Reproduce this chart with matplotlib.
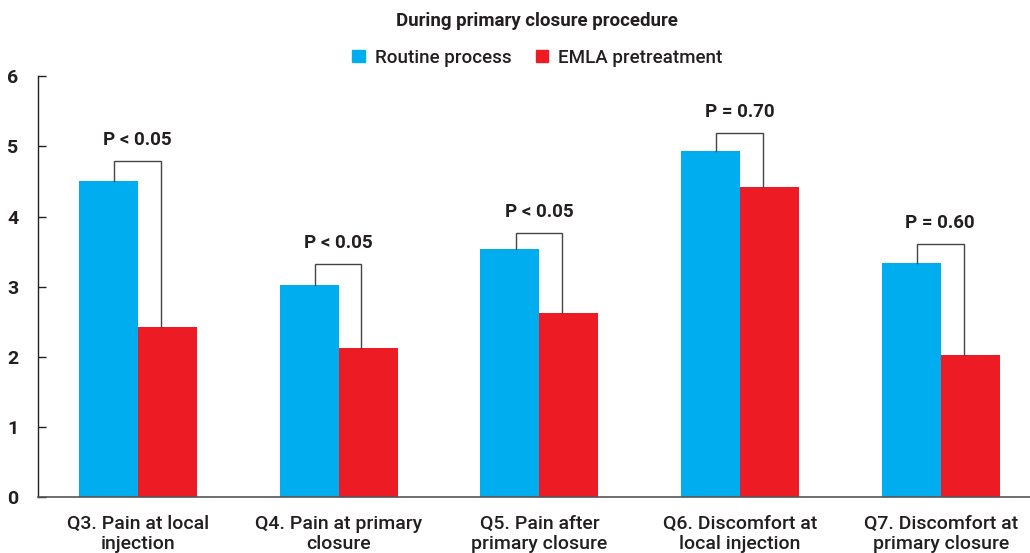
import numpy as np
import matplotlib
matplotlib.use("Agg")
import matplotlib.pyplot as plt
from matplotlib.patches import Patch

plt.rcParams['font.family'] = ['Roboto', 'DejaVu Sans']

# data
categories = ["Q3. Pain at local\ninjection", "Q4. Pain at primary\nclosure",
              "Q5. Pain after\nprimary closure", "Q6. Discomfort at\nlocal injection",
              "Q7. Discomfort at\nprimary closure"]
routine = [4.50, 3.02, 3.54, 4.93, 3.34]
emla = [2.42, 2.12, 2.62, 4.42, 2.02]
bracket_top = [4.79, 3.32, 3.77, 5.19, 3.61]
p_labels = ["P < 0.05", "P < 0.05", "P < 0.05", "P = 0.70", "P = 0.60"]
series_names = ["Routine process", "EMLA pretreatment"]

blue = "#00adef"
red = "#ed1c24"
ink = "#231f20"

fig = plt.figure(figsize=(10.30, 5.53), dpi=100)
ax = fig.add_axes([0.0369, 0.1013, 0.9631, 0.7607])

x = np.arange(len(categories))
w = 0.294
ax.bar(x - w / 2, routine, w, color=blue)
ax.bar(x + w / 2, emla, w, color=red)

# significance brackets
for i in range(len(categories)):
    xl = x[i] - 0.118
    xr = x[i] + 0.113
    ax.plot([xl, xl, xr, xr], [routine[i], bracket_top[i], bracket_top[i], emla[i]],
            color="#444444", lw=1.0, solid_joinstyle="miter")
    ax.text(x[i] - 0.003, bracket_top[i] + 0.17, p_labels[i], ha="center", va="bottom",
            fontsize=13.5, fontweight="bold", color=ink)

ax.set_xlim(-0.498, 4.444)
ax.set_ylim(0, 6)
ax.set_yticks(range(7))
ax.set_xticks(x)
ax.set_xticklabels(categories, fontsize=14, fontweight="medium", color=ink,
                   linespacing=1.15)
ax.tick_params(axis="x", length=0, pad=13)
ax.tick_params(axis="y", direction="in", length=6, width=1, color=ink, pad=14,
               labelsize=14, labelcolor=ink)
for lab in ax.get_yticklabels():
    lab.set_fontweight("bold")
for s in ["top", "right"]:
    ax.spines[s].set_visible(False)
ax.spines["left"].set_color(ink)
ax.spines["bottom"].set_color("#555555")
ax.spines["left"].set_linewidth(1.0)
ax.spines["bottom"].set_linewidth(1.2)

fig.text(0.521, 0.962, "During primary closure procedure", ha="center", va="center",
         fontsize=13.5, fontweight="bold", color=ink)
handles = [Patch(color=blue), Patch(color=red)]
fig.legend(handles, series_names, loc="center", bbox_to_anchor=(0.522, 0.896), ncol=2,
           frameon=False, prop={"size": 13.5, "weight": "medium"}, handlelength=0.65,
           handleheight=0.65, handletextpad=0.55, columnspacing=1.3, labelcolor=ink)

fig.savefig("out.png", dpi=100)
